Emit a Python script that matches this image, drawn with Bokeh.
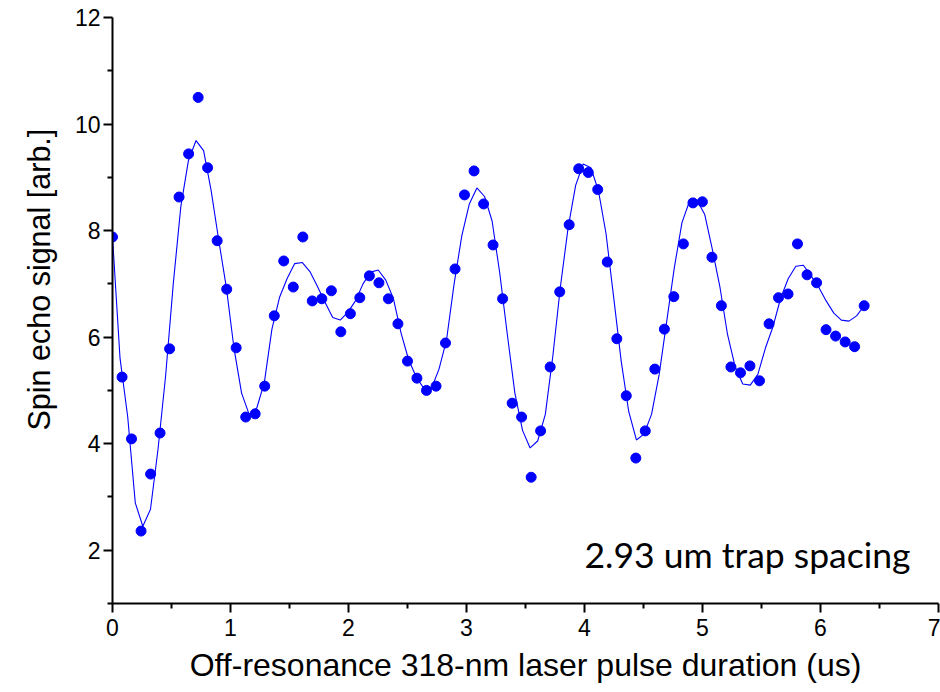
from bokeh.plotting import figure
from bokeh.models import Range1d, Label, FixedTicker, Title
from bokeh.embed import file_html
from bokeh.resources import INLINE

# Measured spin-echo signal vs. pulse duration
pulse_us = [0.000, 0.081, 0.161, 0.242, 0.323, 0.403, 0.484, 0.564, 0.645, 0.726,
            0.806, 0.887, 0.968, 1.048, 1.129, 1.209, 1.290, 1.371, 1.451, 1.532,
            1.613, 1.693, 1.774, 1.855, 1.935, 2.016, 2.096, 2.177, 2.258, 2.338,
            2.419, 2.500, 2.580, 2.661, 2.742, 2.822, 2.903, 2.983, 3.064, 3.145,
            3.225, 3.306, 3.387, 3.467, 3.548, 3.628, 3.709, 3.790, 3.870, 3.951,
            4.032, 4.112, 4.193, 4.274, 4.354, 4.435, 4.515, 4.596, 4.677, 4.757,
            4.838, 4.919, 4.999, 5.080, 5.160, 5.241, 5.322, 5.402, 5.483, 5.564,
            5.644, 5.725, 5.805, 5.886, 5.967, 6.047, 6.128, 6.209, 6.289, 6.370]
signal = [7.88, 5.25, 4.09, 2.36, 3.43, 4.20, 5.78, 8.63, 9.44, 10.50,
          9.18, 7.81, 6.90, 5.80, 4.50, 4.56, 5.08, 6.40, 7.43, 6.94,
          7.88, 6.68, 6.72, 6.87, 6.10, 6.44, 6.74, 7.15, 7.02, 6.72,
          6.25, 5.55, 5.23, 5.00, 5.08, 5.89, 7.28, 8.67, 9.12, 8.50,
          7.73, 6.72, 4.76, 4.50, 3.37, 4.24, 5.44, 6.85, 8.11, 9.16,
          9.09, 8.77, 7.41, 5.97, 4.90, 3.73, 4.24, 5.40, 6.15, 6.76,
          7.75, 8.52, 8.54, 7.50, 6.59, 5.44, 5.33, 5.46, 5.18, 6.25,
          6.74, 6.81, 7.75, 7.17, 7.02, 6.14, 6.02, 5.91, 5.82, 6.59]

# Fitted curve, sampled on a finer grid
fit_us = [0.000, 0.064, 0.129, 0.193, 0.257, 0.322, 0.386, 0.450, 0.515, 0.579,
          0.643, 0.708, 0.772, 0.836, 0.901, 0.965, 1.029, 1.094, 1.158, 1.223,
          1.287, 1.351, 1.416, 1.480, 1.544, 1.609, 1.673, 1.737, 1.802, 1.866,
          1.930, 1.995, 2.059, 2.123, 2.188, 2.252, 2.316, 2.381, 2.445, 2.509,
          2.574, 2.638, 2.702, 2.767, 2.831, 2.895, 2.960, 3.024, 3.088, 3.153,
          3.217, 3.282, 3.346, 3.410, 3.475, 3.539, 3.603, 3.668, 3.732, 3.796,
          3.861, 3.925, 3.989, 4.054, 4.118, 4.182, 4.247, 4.311, 4.375, 4.440,
          4.504, 4.568, 4.633, 4.697, 4.761, 4.826, 4.890, 4.954, 5.019, 5.083,
          5.147, 5.212, 5.276, 5.341, 5.405, 5.469, 5.534, 5.598, 5.662, 5.727,
          5.791, 5.855, 5.920, 5.984, 6.048, 6.113, 6.177, 6.241, 6.306, 6.370]
fit_signal = [7.88, 5.60, 4.50, 2.89, 2.45, 2.77, 3.90, 5.27, 7.00, 8.45,
              9.31, 9.69, 9.50, 8.75, 7.81, 6.93, 5.80, 4.95, 4.55, 4.67,
              5.15, 6.15, 6.75, 7.10, 7.38, 7.40, 7.23, 6.95, 6.65, 6.37,
              6.32, 6.47, 6.68, 7.00, 7.22, 7.26, 7.07, 6.72, 6.08, 5.58,
              5.25, 5.04, 5.03, 5.40, 5.95, 7.00, 7.90, 8.50, 8.80, 8.64,
              8.18, 7.20, 6.05, 4.95, 4.25, 3.92, 4.05, 4.55, 5.65, 6.95,
              8.05, 8.85, 9.25, 9.18, 8.75, 7.95, 6.75, 5.55, 4.60, 4.07,
              4.18, 4.55, 5.30, 6.30, 7.30, 8.15, 8.55, 8.57, 8.30, 7.65,
              6.95, 6.05, 5.45, 5.12, 5.10, 5.30, 5.80, 6.20, 6.73, 7.10,
              7.33, 7.35, 7.15, 6.94, 6.68, 6.45, 6.32, 6.30, 6.40, 6.59]

x_ticks = [0, 1, 2, 3, 4, 5, 6, 7]
y_ticks = [2, 4, 6, 8, 10, 12]

BLUE = "#0000FF"
SANS = "'Liberation Sans', Arial, sans-serif"

p = figure(width=940, height=692, output_backend="svg", toolbar_location=None,
           x_range=Range1d(0, 7), y_range=Range1d(1, 12),
           min_border_left=112, min_border_right=2,
           min_border_top=17, min_border_bottom=89)
p.outline_line_color = None
p.xgrid.visible = False
p.ygrid.visible = False
p.background_fill_color = "white"
p.border_fill_color = "white"

p.line(fit_us, fit_signal, line_color=BLUE, line_width=1.1)
p.scatter(pulse_us, signal, marker="circle", size=10,
          fill_color=BLUE, line_color=BLUE)

for ax in (p.xaxis[0], p.yaxis[0]):
    ax.axis_line_width = 2
    ax.axis_line_color = "black"
    ax.major_tick_line_width = 2
    ax.minor_tick_line_width = 2
    ax.major_tick_in = 0
    ax.major_tick_out = 9
    ax.minor_tick_in = 0
    ax.minor_tick_out = 5
    ax.major_label_text_font = SANS
    ax.major_label_text_font_size = "23px"
    ax.major_label_text_color = "black"

p.xaxis.ticker = FixedTicker(ticks=x_ticks, minor_ticks=[0.5 + i for i in range(7)])
p.yaxis.ticker = FixedTicker(ticks=y_ticks, minor_ticks=[1, 3, 5, 7, 9, 11])
p.xaxis.major_label_standoff = 6
p.yaxis.major_label_standoff = 3

p.xaxis.axis_label = "Off-resonance 318-nm laser pulse duration (us)"
p.xaxis.axis_label_text_font = SANS
p.xaxis.axis_label_text_font_size = "32px"
p.xaxis.axis_label_text_font_style = "normal"
p.xaxis.axis_label_text_color = "black"
p.xaxis.axis_label_standoff = 8

# vertical axis title, anchored near the bottom of the frame
p.add_layout(Title(text="Spin echo signal [arb.]", align="left", offset=173,
                   standoff=31, text_font=SANS, text_font_size="30.5px",
                   text_font_style="normal", text_color="black"), "left")

p.add_layout(Label(x=4.0, y=1.92, text="2.93 um trap spacing",
                   text_align="left", text_baseline="alphabetic",
                   text_font="Lato", text_font_size="35.5px", text_color="black"))

open("out.html", "w").write(file_html(p, INLINE))
